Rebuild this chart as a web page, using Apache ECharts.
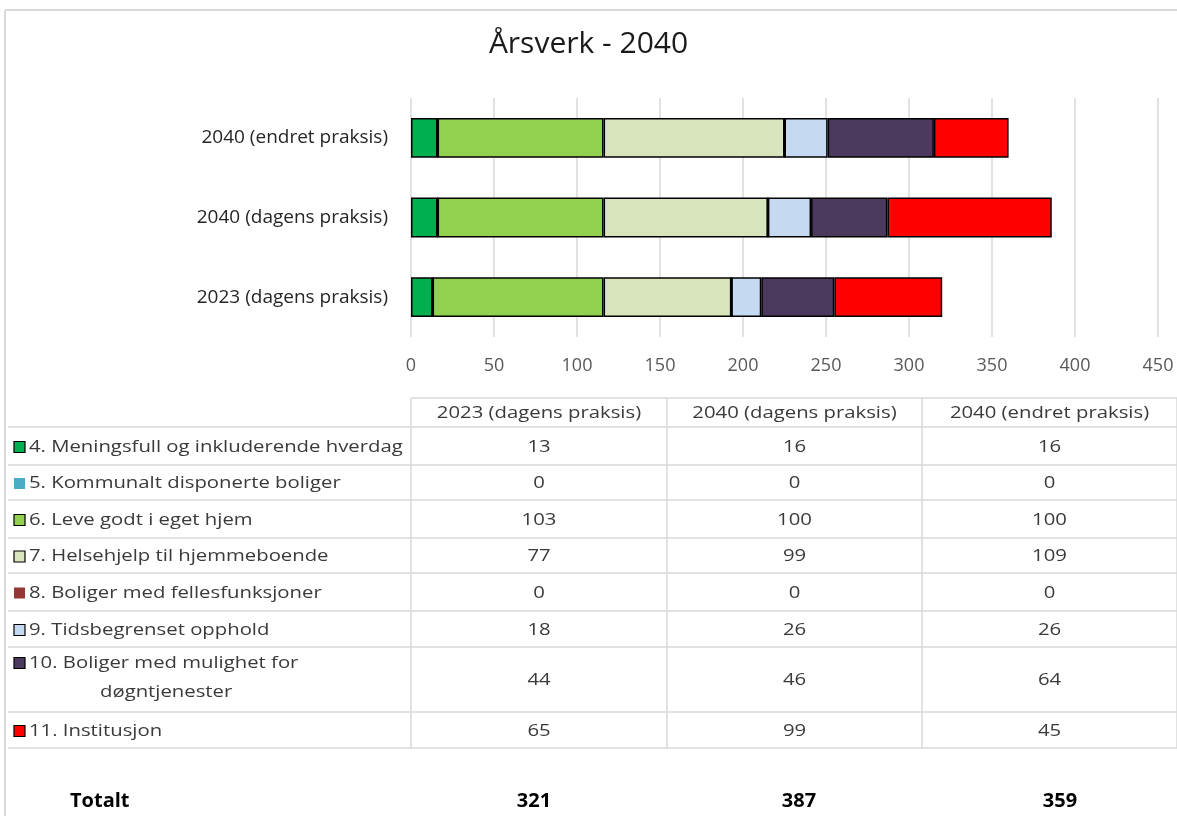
<!DOCTYPE html>
<html>
<head>
<meta charset="utf-8">
<script src="https://cdn.jsdelivr.net/npm/echarts@6/dist/echarts.min.js"></script>
<style>
html, body { margin:0; padding:0; background:#fff; }
#main { width:1177px; height:816px; }
</style>
</head>
<body>
<div id="main"></div>
<script>
// kategorier (y-aksen, nederst til øverst)
var categories = ['2023 (dagens praksis)', '2040 (dagens praksis)', '2040 (endret praksis)'];
var xTicks = [0, 50, 100, 150, 200, 250, 300, 350, 400, 450];

// serier: verdier i rekkefølgen 2023 dagens, 2040 dagens, 2040 endret
var names = [
	'4. Meningsfull og inkluderende hverdag',
	'5. Kommunalt disponerte boliger',
	'6. Leve godt i eget hjem',
	'7. Helsehjelp til hjemmeboende',
	'8. Boliger med fellesfunksjoner',
	'9. Tidsbegrenset opphold',
	'10. Boliger med mulighet for',
	'11. Institusjon'
];
var s4 = [13, 16, 16];
var s5 = [0, 0, 0];
var s6 = [103, 100, 100];
var s7 = [77, 99, 109];
var s8 = [0, 0, 0];
var s9 = [18, 26, 26];
var s10 = [44, 46, 64];
var s11 = [65, 99, 45];
var totals = [321, 387, 359];

var values = [s4, s5, s6, s7, s8, s9, s10, s11];
var colors = ['#00B050', '#4BACC6', '#92D050', '#D8E4BC', '#953735', '#C5D9F1', '#4B3A5E', '#FF0000'];
var boxBorder = [true, false, true, true, false, true, true, true];

var FONT = "'Open Sans', 'Noto Sans', sans-serif";
var txtColor = '#3a3a3a';
var lineColor = '#D9D9D9';
var stretch = 1.23;	// teksten i tabellen er bredere enn normalt

// tabell-oppsett
var colX = [411, 667, 922, 1177];
var headerTop = 398;
var rowLines = [427, 465, 500, 538, 573, 611, 647, 712, 748];

var dom = document.getElementById('main');
var myChart = echarts.init(dom, null, {renderer: 'canvas'});

var series = [];
$each = function(arr, fn){ for(var i=0;i<arr.length;i++){ fn(i, arr[i]); } };
$each(names, function(i, n){
	series.push({
		name: n,
		type: 'bar',
		stack: 'total',
		barCategoryGap: '50%',
		data: values[i],
		itemStyle: {color: colors[i], borderColor: '#000', borderWidth: 1.5},
		emphasis: {disabled: true}
	});
});

var graphic = [];
// ramme
graphic.push({type:'line', shape:{x1:5, y1:10, x2:1177, y2:10}, style:{stroke:lineColor, lineWidth:2}});
graphic.push({type:'line', shape:{x1:5, y1:10, x2:5, y2:816}, style:{stroke:lineColor, lineWidth:2}});

// tabell-linjer
graphic.push({type:'line', shape:{x1:colX[0], y1:headerTop, x2:1177, y2:headerTop}, style:{stroke:lineColor, lineWidth:1.5}});
$each(rowLines, function(i, y){
	graphic.push({type:'line', shape:{x1:8, y1:y, x2:1177, y2:y}, style:{stroke:lineColor, lineWidth:1.5}});
});
$each(colX, function(i, x){
	graphic.push({type:'line', shape:{x1:x, y1:headerTop, x2:x, y2:rowLines[rowLines.length-1]}, style:{stroke:lineColor, lineWidth:1.5}});
});

function addText(t, x, y, align, font, color, sx){
	graphic.push({type:'text', x:x, y:y, scaleX: sx || 1,
		style:{text:t, x:0, y:0, align:align, textAlign:align, verticalAlign:'middle', textVerticalAlign:'middle', font:font, fill:color}});
}

// kolonneoverskrifter (2023, 2040 dagens, 2040 endret)
$each(categories, function(i, c){
	addText(c, (colX[i] + colX[i+1]) / 2, (headerTop + rowLines[0]) / 2 + 1, 'center', '16.5px ' + FONT, txtColor, stretch);
});

// rader
$each(names, function(i, n){
	var top = rowLines[i], bot = rowLines[i+1];
	var cy = (top + bot) / 2 + 1;
	var ly = cy;
	if(i == 6){ ly = top + 16; }
	graphic.push({type:'rect', shape:{x:14, y:ly-5.5, width:11, height:11},
		style:{fill:colors[i], stroke: boxBorder[i] ? '#000' : null, lineWidth: boxBorder[i] ? 1.2 : 0}});
	addText(n, 29, ly, 'left', '16.5px ' + FONT, txtColor, stretch);
	if(i == 6){ addText('døgntjenester', 100, top + 45, 'left', '16.5px ' + FONT, txtColor, stretch); }
	$each(values[i], function(j, v){
		addText(String(v), (colX[j] + colX[j+1]) / 2, cy, 'center', '16.5px ' + FONT, txtColor, stretch);
	});
});

// totalt
addText('Totalt', 70, 801, 'left', 'bold 20px ' + FONT, '#000');
var totalX = [534, 799, 1060];
$each(totals, function(j, v){
	addText(String(v), totalX[j], 801, 'center', 'bold 20px ' + FONT, '#000');
});

var option = {
	animation: false,
	title: {
		text: 'Årsverk - 2040',
		left: 'center',
		top: 29,
		padding: 0,
		textStyle: {fontFamily: FONT, fontSize: 30, fontWeight: 'normal', color: '#1a1a1a'}
	},
	grid: {left: 411, right: 19, top: 98, height: 239, containLabel: false},
	xAxis: {
		type: 'value',
		min: xTicks[0],
		max: xTicks[xTicks.length-1],
		interval: xTicks[1] - xTicks[0],
		axisLine: {show: false},
		axisTick: {show: false},
		splitLine: {lineStyle: {color: lineColor, width: 1.5}},
		axisLabel: {color: '#595959', fontSize: 18, fontFamily: FONT, margin: 20}
	},
	yAxis: {
		type: 'category',
		data: categories,
		axisLine: {show: false},
		axisTick: {show: false},
		axisLabel: {color: '#262626', fontSize: 19, fontFamily: FONT, margin: 23}
	},
	series: series,
	graphic: graphic
};
myChart.setOption(option, true);
</script>
</body>
</html>
